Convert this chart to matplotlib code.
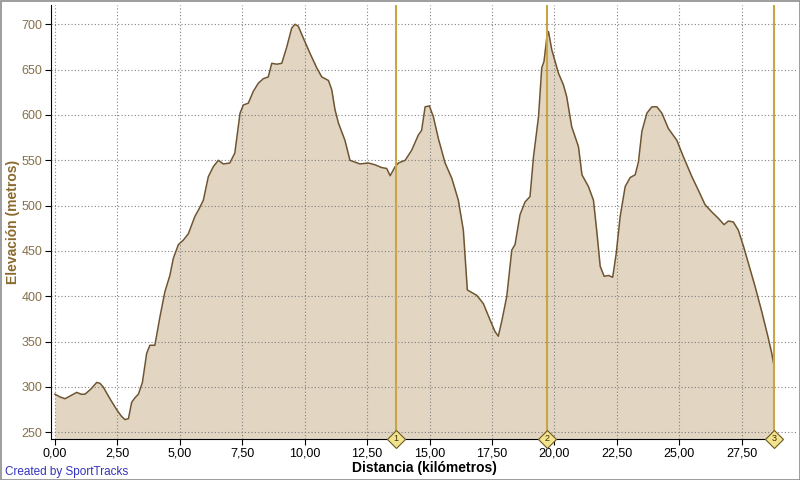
import matplotlib
matplotlib.use("Agg")
import matplotlib.pyplot as plt
from matplotlib.patches import Rectangle

plt.rcParams['font.family'] = ['Liberation Sans', 'DejaVu Sans']

distance_km = [0.0, 0.2, 0.4, 0.6, 0.87, 1.05, 1.2, 1.45, 1.67, 1.8, 1.93, 2.2, 2.47, 2.65, 2.8, 2.94,
               3.07, 3.2, 3.34, 3.5, 3.67, 3.8, 4.0, 4.2, 4.4, 4.6, 4.74, 4.94, 5.14, 5.34, 5.6, 5.78,
               5.94, 6.14, 6.34, 6.54, 6.74, 7.0, 7.2, 7.41, 7.54, 7.74, 7.94, 8.14, 8.34, 8.54, 8.68,
               8.88, 9.08, 9.28, 9.48, 9.61, 9.74, 9.94, 10.21, 10.48, 10.68, 10.95, 11.08, 11.21,
               11.35, 11.61, 11.81, 12.01, 12.21, 12.55, 12.82, 13.08, 13.28, 13.42, 13.62, 13.75,
               14.02, 14.28, 14.55, 14.68, 14.82, 14.99, 15.15, 15.35, 15.62, 15.89, 16.15, 16.35,
               16.51, 16.89, 17.15, 17.42, 17.62, 17.75, 17.9, 18.09, 18.29, 18.42, 18.62, 18.82,
               19.02, 19.16, 19.36, 19.49, 19.58, 19.69, 19.76, 19.89, 20.16, 20.36, 20.49, 20.69,
               20.96, 21.1, 21.36, 21.56, 21.7, 21.83, 21.99, 22.16, 22.33, 22.47, 22.63, 22.83,
               23.03, 23.23, 23.36, 23.5, 23.7, 23.9, 24.1, 24.3, 24.56, 24.9, 25.16, 25.5, 25.76,
               26.03, 26.3, 26.56, 26.79, 26.96, 27.16, 27.36, 27.57, 27.77, 28.03, 28.3, 28.56,
               28.7, 28.8]
elevation_m = [292, 289, 287, 290, 294, 292, 292, 298, 305, 304, 300, 287, 275, 268, 264, 265,
               283, 288, 292, 305, 337, 346, 346, 377, 405, 423, 442, 457, 462, 469, 488, 497,
               506, 532, 543, 550, 546, 547, 558, 602, 611, 613, 626, 635, 640, 642, 657,
               656, 657, 675, 696, 700, 698, 685, 668, 652, 642, 638, 628, 606,
               591, 572, 550, 548, 546, 547, 545, 542, 541, 533, 543, 547,
               550, 561, 578, 583, 609, 610, 598, 574, 547, 530, 506, 473,
               407, 401, 392, 374, 361, 356, 374, 400, 451, 457, 490, 504,
               510, 554, 598, 652, 659, 685, 692, 672, 646, 633, 620, 587,
               565, 534, 521, 506, 470, 433, 422, 423, 421, 447, 488, 521,
               531, 534, 548, 582, 602, 609, 609, 602, 585, 572, 554, 532, 517,
               501, 493, 486, 479, 483, 482, 473, 455, 436, 411, 383, 354,
               337, 322]

marker_km = [13.66, 19.70, 28.80]
marker_labels = ["1", "2", "3"]

x_ticks = [0, 2.5, 5, 7.5, 10, 12.5, 15, 17.5, 20, 22.5, 25, 27.5]
x_tick_labels = ["0,00", "2,50", "5,00", "7,50", "10,00", "12,50", "15,00", "17,50",
                 "20,00", "22,50", "25,00", "27,50"]
y_ticks = [250, 300, 350, 400, 450, 500, 550, 600, 650, 700]

fig = plt.figure(figsize=(8, 4.8), dpi=100)
ax = fig.add_axes([51/800, 1-439/480, (797-51)/800, (439-5)/480])

xmin, xmax = -0.16, 29.71
ymin, ymax = 242.6, 721.3
ax.set_xlim(xmin, xmax)
ax.set_ylim(ymin, ymax)

ax.fill_between(distance_km, elevation_m, ymin, color="#E2D6C2", lw=0, zorder=2)
ax.plot(distance_km, elevation_m, color="#6E5531", lw=1.1, zorder=3)

ax.grid(True, linestyle=(0, (1, 2)), color="#808080", lw=0.8, zorder=4)
ax.set_axisbelow(False)

for km, lab in zip(marker_km, marker_labels):
    ax.axvline(km, color="#C9A548", lw=1.5, zorder=5)
    ax.plot([km], [ymin], marker="D", ms=9.5, mfc="#F2E38F", mec="#6E5A20", mew=0.8,
            clip_on=False, zorder=7)
    ax.text(km, ymin, lab, fontsize=6.5, ha="center", va="center", color="#403010",
            zorder=8, clip_on=False)

for s in ["top", "right"]:
    ax.spines[s].set_visible(False)
ax.spines["left"].set_color("black")
ax.spines["bottom"].set_color("black")
ax.spines["bottom"].set_bounds(xmin, 29.03)

ax.set_xticks(x_ticks)
ax.set_xticklabels(x_tick_labels)
ax.set_yticks(y_ticks)
ax.set_yticklabels([str(v) for v in y_ticks])
ax.tick_params(axis="x", direction="out", length=4, labelsize=9, colors="black", pad=2)
ax.tick_params(axis="y", direction="out", length=4, labelsize=9, labelcolor="#86704A", pad=2)

ax.set_xlabel("Distancia (kilómetros)", fontsize=10, fontweight="bold", color="black", labelpad=1)
ax.set_ylabel("Elevación (metros)", fontsize=10, fontweight="bold", color="#8A6A2E", labelpad=1)

fig.text(5/800, 1-472/480, "Created by SportTracks", fontsize=8.5, color="#3333BB",
         ha="left", va="center")

fig.patches.append(Rectangle((0.5/800, 0.5/480), 1-1/800, 1-1/480, transform=fig.transFigure,
                             fill=False, edgecolor="#8C8C8C", lw=1.2))

fig.savefig("out.png", dpi=100)
